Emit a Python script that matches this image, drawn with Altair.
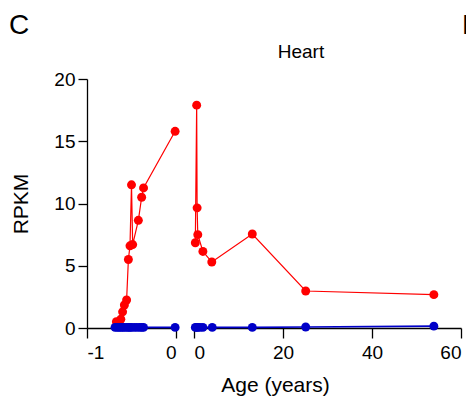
import altair as alt
import pandas as pd

# ---- data ----
pre_red_x = [-0.67, -0.645, -0.62, -0.60, -0.58, -0.555, -0.535, -0.517, -0.50, -0.487, -0.423, -0.386, -0.365, -0.01]
pre_red_y = [0.5, 0.35, 0.7, 1.3, 1.85, 2.25, 5.5, 6.6, 11.5, 6.7, 8.65, 10.5, 11.25, 15.8]

pre_blue_x = [-0.685, -0.66, -0.64, -0.62, -0.60, -0.58, -0.555, -0.535, -0.517, -0.50, -0.47, -0.44, -0.41, -0.386, -0.365, -0.01]
pre_blue_y = [0.05, 0.05, 0.05, 0.05, 0.05, 0.05, 0.05, 0.05, 0.05, 0.05, 0.05, 0.05, 0.05, 0.05, 0.05, 0.05]

post_red_x = [0.3, 0.6, 0.7, 0.85, 2.0, 4.0, 13.1, 25.1, 53.9]
post_red_y = [6.85, 17.9, 9.65, 7.5, 6.15, 5.3, 7.55, 2.97, 2.68]

post_blue_x = [0.3, 0.6, 0.85, 1.35, 2.0, 4.1, 13.1, 25.1, 53.9]
post_blue_y = [0.05, 0.05, 0.05, 0.05, 0.05, 0.05, 0.05, 0.08, 0.15]

series_names = ["Gene 1", "Gene 2"]
series_colors = ["#FF0000", "#0000C8"]

pre_ticks = [-1, 0]
post_ticks = [0, 20, 40, 60]
y_ticks = [0, 5, 10, 15, 20]

FONT = "Liberation Sans"

def frame(xs, ys, name):
    return pd.DataFrame({"age": xs, "rpkm": ys, "series": name})

pre_df = pd.concat([frame(pre_red_x, pre_red_y, series_names[0]),
                    frame(pre_blue_x, pre_blue_y, series_names[1])])
post_df = pd.concat([frame(post_red_x, post_red_y, series_names[0]),
                     frame(post_blue_x, post_blue_y, series_names[1])])

color = alt.Color("series:N", scale=alt.Scale(domain=series_names, range=series_colors), legend=None)

y_axis = alt.Axis(values=y_ticks, title="RPKM", tickSize=9, labelPadding=3,
                  titleX=-66, titleY=124.5, titleAngle=-90, titleAlign="center",
                  titleBaseline="middle", titleFontSize=21, titleFontWeight="normal")
y_enc = alt.Y("rpkm:Q", scale=alt.Scale(domain=[0, 20], nice=False), axis=y_axis)

pre_x = alt.X("age:Q", scale=alt.Scale(domain=[-1, 0], range=[0, 89], nice=False, zero=False),
              axis=alt.Axis(values=pre_ticks, orient="bottom", title=None, tickSize=10, format="d",
                            labelPadding=5, labelExpr="replace(datum.label, '\u2212', '-')"))
post_x = alt.X("age:Q", scale=alt.Scale(domain=[0, 60], range=[107, 374], nice=False),
               axis=alt.Axis(values=post_ticks, orient="bottom", title="Age (years)", tickSize=10,
                             format="d", labelPadding=5, titleX=188, titleY=57, titleAlign="center",
                             titleBaseline="middle", titleFontSize=21, titleFontWeight="normal"))

def panel(df, xenc):
    base = alt.Chart(df).encode(x=xenc, y=y_enc, color=color, detail="series:N")
    red_line = base.transform_filter(alt.datum.series == series_names[0]).mark_line(strokeWidth=1.2)
    blue_line = base.transform_filter(alt.datum.series == series_names[1]).mark_line(strokeWidth=1.6)
    pts = base.mark_circle(size=80, opacity=1)
    return alt.layer(red_line, blue_line, pts)

pre = panel(pre_df, pre_x)
post = panel(post_df, post_x)

title_txt = alt.Chart(pd.DataFrame({"t": ["Heart"]})).mark_text(
    fontSize=19, font=FONT, color="black").encode(
    text="t:N", x=alt.value(214), y=alt.value(-27))
panel_c = alt.Chart(pd.DataFrame({"t": ["C"]})).mark_text(
    fontSize=28, font=FONT, color="black", baseline="alphabetic", align="left").encode(
    text="t:N", x=alt.value(-78), y=alt.value(-45))
panel_d = alt.Chart(pd.DataFrame({"t": ["D"]})).mark_text(
    fontSize=28, font=FONT, color="black", baseline="alphabetic", align="left").encode(
    text="t:N", x=alt.value(375), y=alt.value(-45))

chart = alt.layer(pre, post, title_txt, panel_c, panel_d).resolve_scale(
    x="independent").resolve_axis(x="independent").properties(
    width=374, height=249,
    autosize=alt.AutoSizeParams(type="none"),
    padding={"left": 79, "top": 71, "right": 5, "bottom": 68},
    background="white",
).configure_view(stroke=None).configure_axis(
    grid=False, domainColor="black", tickColor="black", domainWidth=1.3, tickWidth=1.3,
    labelColor="black", titleColor="black", labelFont=FONT, titleFont=FONT, labelFontSize=19,
)

chart.save("out.html", embed_options={"renderer": "svg", "actions": False})
